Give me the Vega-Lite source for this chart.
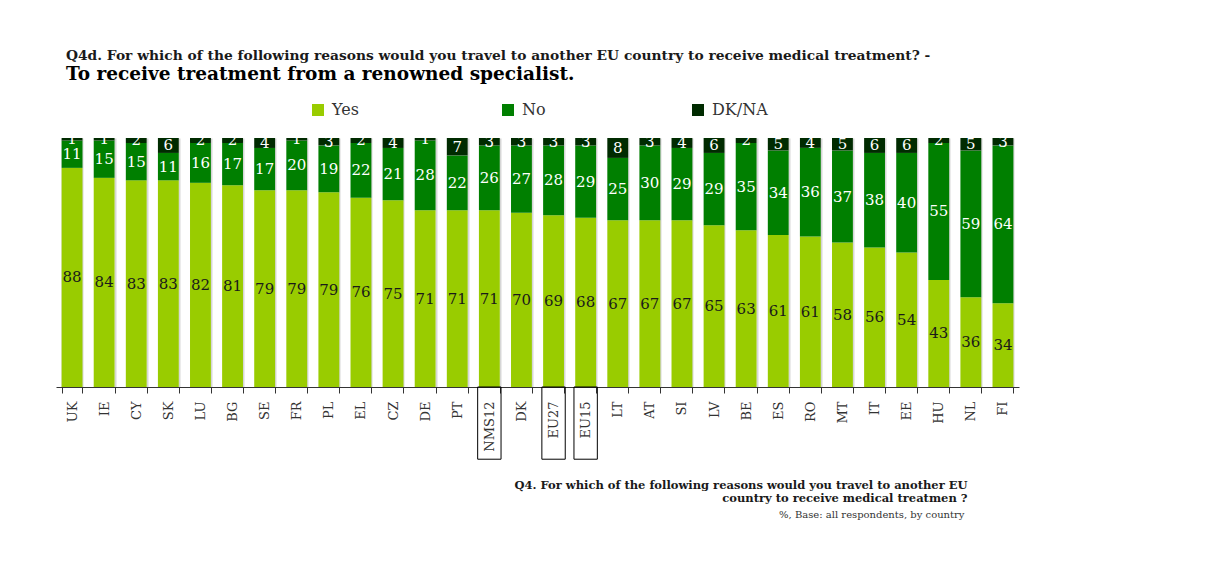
{
  "$schema": "https://vega.github.io/schema/vega-lite/v6.json",
  "autosize": "none",
  "width": 963,
  "height": 249,
  "padding": {"left": 56, "top": 138, "right": 189, "bottom": 179},
  "background": "white",
  "config": {"view": {"stroke": null}},
  "title": {
    "text": "Q4d. For which of the following reasons would you travel to another EU country to receive medical treatment? -",
    "subtitle": "To receive treatment from a renowned specialist.",
    "anchor": "start",
    "frame": "group",
    "font": "DejaVu Serif",
    "fontSize": 13.8,
    "fontWeight": "bold",
    "color": "#1a1a1a",
    "subtitleFont": "DejaVu Serif",
    "subtitleFontSize": 18.5,
    "subtitleFontWeight": "bold",
    "subtitleColor": "#000000",
    "subtitlePadding": 2,
    "dx": 10,
    "offset": 19
  },
  "data": {
    "values": [
      {"country": "UK", "Yes": 88, "No": 11, "DK/NA": 1},
      {"country": "IE", "Yes": 84, "No": 15, "DK/NA": 1},
      {"country": "CY", "Yes": 83, "No": 15, "DK/NA": 2},
      {"country": "SK", "Yes": 83, "No": 11, "DK/NA": 6},
      {"country": "LU", "Yes": 82, "No": 16, "DK/NA": 2},
      {"country": "BG", "Yes": 81, "No": 17, "DK/NA": 2},
      {"country": "SE", "Yes": 79, "No": 17, "DK/NA": 4},
      {"country": "FR", "Yes": 79, "No": 20, "DK/NA": 1},
      {"country": "PL", "Yes": 79, "No": 19, "DK/NA": 3},
      {"country": "EL", "Yes": 76, "No": 22, "DK/NA": 2},
      {"country": "CZ", "Yes": 75, "No": 21, "DK/NA": 4},
      {"country": "DE", "Yes": 71, "No": 28, "DK/NA": 1},
      {"country": "PT", "Yes": 71, "No": 22, "DK/NA": 7},
      {"country": "NMS12", "Yes": 71, "No": 26, "DK/NA": 3},
      {"country": "DK", "Yes": 70, "No": 27, "DK/NA": 3},
      {"country": "EU27", "Yes": 69, "No": 28, "DK/NA": 3},
      {"country": "EU15", "Yes": 68, "No": 29, "DK/NA": 3},
      {"country": "LT", "Yes": 67, "No": 25, "DK/NA": 8},
      {"country": "AT", "Yes": 67, "No": 30, "DK/NA": 3},
      {"country": "SI", "Yes": 67, "No": 29, "DK/NA": 4},
      {"country": "LV", "Yes": 65, "No": 29, "DK/NA": 6},
      {"country": "BE", "Yes": 63, "No": 35, "DK/NA": 2},
      {"country": "ES", "Yes": 61, "No": 34, "DK/NA": 5},
      {"country": "RO", "Yes": 61, "No": 36, "DK/NA": 4},
      {"country": "MT", "Yes": 58, "No": 37, "DK/NA": 5},
      {"country": "IT", "Yes": 56, "No": 38, "DK/NA": 6},
      {"country": "EE", "Yes": 54, "No": 40, "DK/NA": 6},
      {"country": "HU", "Yes": 43, "No": 55, "DK/NA": 2},
      {"country": "NL", "Yes": 36, "No": 59, "DK/NA": 5},
      {"country": "FI", "Yes": 34, "No": 64, "DK/NA": 3}
    ]
  },
  "transform": [{"fold": ["Yes", "No", "DK/NA"], "as": ["answer", "value"]}],
  "encoding": {
    "x": {
      "field": "country",
      "type": "nominal",
      "sort": null,
      "scale": {"paddingInner": 0.35, "paddingOuter": 0.175},
      "axis": {
        "title": ["Q4. For which of the following reasons would you travel to another EU", "country to receive medical treatmen ?"],
        "titleFont": "DejaVu Serif",
        "titleFontSize": 11.5,
        "titleFontWeight": "bold",
        "titleColor": "#1a1a1a",
        "titleAlign": "right",
        "titleAnchor": null,
        "titleX": 911,
        "titleY": 92,
        "titleBaseline": "top",
        "titleLineHeight": 13,
        "labelAngle": -90,
        "labelFont": "DejaVu Serif",
        "labelFontSize": 13,
        "labelColor": "#333333",
        "labelPadding": 8,
        "tickBand": "extent",
        "grid": true,
        "gridColor": "#d6d6d6",
        "gridWidth": 2,
        "domainColor": "#333333",
        "tickColor": "#333333",
        "tickSize": 6
      }
    }
  },
  "layer": [
    {
      "mark": {"type": "bar"},
      "encoding": {
        "y": {
          "field": "value",
          "type": "quantitative",
          "stack": "normalize",
          "scale": {"domain": [0, 1], "nice": false},
          "axis": {
            "title": "%, Base: all respondents, by country",
            "labels": false,
            "ticks": false,
            "domain": false,
            "grid": false,
            "titleAngle": 0,
            "titleX": 908,
            "titleY": 371,
            "titleAlign": "right",
            "titleAnchor": null,
            "titleBaseline": "top",
            "titleFont": "DejaVu Serif",
            "titleFontSize": 10,
            "titleFontWeight": "normal",
            "titleColor": "#333333"
          }
        },
        "color": {
          "field": "answer",
          "type": "nominal",
          "scale": {"domain": ["Yes", "No", "DK/NA"], "range": ["#99cc00", "#007f00", "#002b00"]},
          "legend": {
            "title": null,
            "orient": "none",
            "legendX": 254,
            "legendY": -36,
            "direction": "horizontal",
            "columns": 3,
            "gridAlign": "all",
            "columnPadding": 112,
            "padding": 0,
            "symbolType": "square",
            "symbolSize": 144,
            "symbolStrokeWidth": 0,
            "labelFont": "DejaVu Serif",
            "labelFontSize": 16,
            "labelColor": "#333333",
            "labelOffset": 6
          }
        },
        "order": {"field": "answer", "sort": "descending"}
      }
    },
    {
      "mark": {"type": "text", "font": "DejaVu Serif", "fontSize": 15, "clip": true},
      "encoding": {
        "y": {"field": "value", "type": "quantitative", "stack": "normalize", "bandPosition": 0.5},
        "text": {"field": "value", "type": "quantitative"},
        "color": {"condition": {"test": "datum.answer === 'Yes'", "value": "#1a1a1a"}, "value": "#ffffff"},
        "order": {"field": "answer", "sort": "descending"}
      }
    },
    {
      "transform": [{"filter": "datum.answer === 'Yes' && (datum.country === 'NMS12' || datum.country === 'EU27' || datum.country === 'EU15')"}],
      "mark": {"type": "bar", "fill": "transparent", "stroke": "#000000", "strokeWidth": 1, "width": {"band": 1.12}},
      "encoding": {
        "y": {"datum": 0},
        "y2": {"datum": -0.29}
      }
    }
  ]
}
